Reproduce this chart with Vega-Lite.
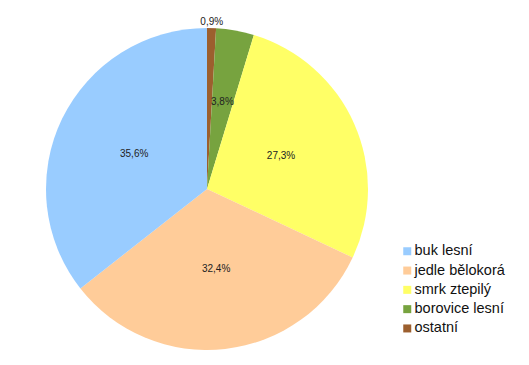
{
  "$schema": "https://vega.github.io/schema/vega-lite/v6.json",
  "width": 322,
  "height": 320,
  "autosize": {"type": "none"},
  "padding": {"left": 46, "top": 29, "right": 161, "bottom": 16},
  "background": "white",
  "config": {"view": {"stroke": null}},
  "data": {
    "values": [
      {"druh": "ostatní", "podil": 0.9, "popis": "0,9%", "poradi": 1},
      {"druh": "borovice lesní", "podil": 3.8, "popis": "3,8%", "poradi": 2},
      {"druh": "smrk ztepilý", "podil": 27.3, "popis": "27,3%", "poradi": 3},
      {"druh": "jedle bělokorá", "podil": 32.4, "popis": "32,4%", "poradi": 4},
      {"druh": "buk lesní", "podil": 35.6, "popis": "35,6%", "poradi": 5}
    ]
  },
  "encoding": {
    "theta": {"field": "podil", "type": "quantitative", "stack": true},
    "order": {"field": "poradi", "type": "quantitative"}
  },
  "layer": [
    {
      "mark": {"type": "arc", "outerRadius": 161},
      "encoding": {
        "color": {
          "field": "druh",
          "type": "nominal",
          "scale": {
            "domain": ["buk lesní", "jedle bělokorá", "smrk ztepilý", "borovice lesní", "ostatní"],
            "range": ["#99CCFF", "#FFCC99", "#FFFF66", "#77A33F", "#9C5F2E"]
          },
          "legend": {
            "title": null,
            "orient": "none",
            "legendX": 354,
            "legendY": 215,
            "padding": 0,
            "symbolType": "square",
            "symbolSize": 64,
            "symbolStrokeWidth": 0,
            "labelFont": "Liberation Sans",
            "labelFontSize": 14.5,
            "labelColor": "#111111",
            "labelOffset": 0,
            "rowPadding": 4.3
          }
        }
      }
    },
    {
      "mark": {
        "type": "text",
        "font": "Liberation Sans",
        "fontSize": 10,
        "color": "#222222",
        "radius": {"expr": "datum.podil < 1 ? 167 : datum.podil < 5 ? 88 : 81"}
      },
      "encoding": {
        "text": {"field": "popis", "type": "nominal"}
      }
    }
  ]
}
